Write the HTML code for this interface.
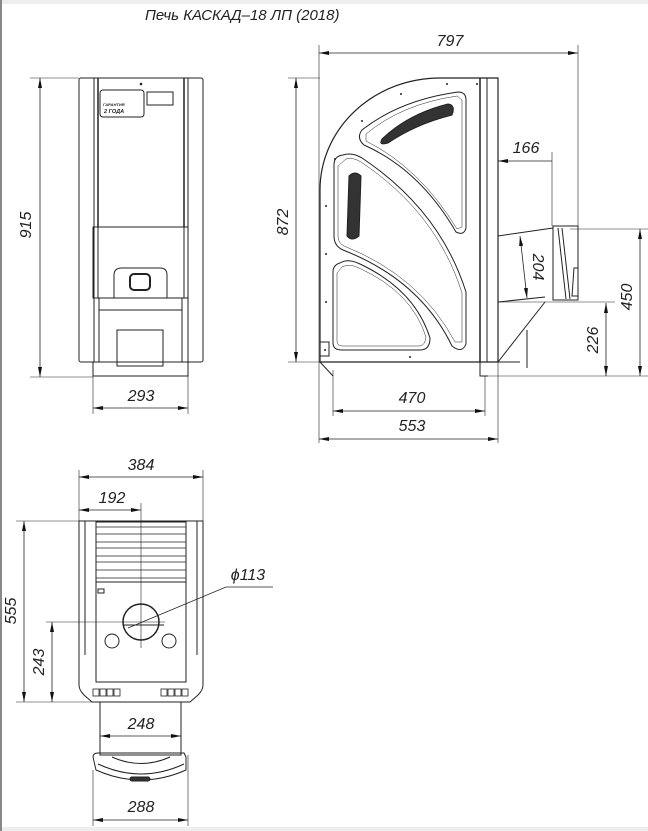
<!DOCTYPE html>
<html><head><meta charset="utf-8"><style>
html,body{margin:0;padding:0;background:#fff;}
svg{display:block;}
text{font-family:"Liberation Sans","DejaVu Sans",sans-serif;font-style:italic;fill:#222;}
</style></head><body>
<svg width="648" height="831" viewBox="0 0 648 831" xmlns="http://www.w3.org/2000/svg">
<defs>
<marker id="a" viewBox="0 0 10 4" refX="10" refY="2" markerWidth="10" markerHeight="4" orient="auto-start-reverse" markerUnits="userSpaceOnUse"><path d="M0,0 L10,2 L0,4 Z" fill="#111"/></marker>
</defs>
<rect x="0" y="0" width="648" height="4" fill="#eee"/>
<rect x="0" y="827" width="648" height="4" fill="#eee"/>
<rect x="0" y="0" width="2" height="831" fill="#888"/>
<text x="145" y="20" font-size="15">Печь КАСКАД–18 ЛП (2018)</text>

<g fill="none" stroke="#222" stroke-width="1">
<!-- FRONT VIEW -->
<rect x="79" y="78" width="124" height="284" rx="2"/>
<line x1="94" y1="78" x2="94" y2="362"/><line x1="98" y1="78" x2="98" y2="227" stroke-width="1.5"/>
<line x1="188" y1="78" x2="188" y2="362"/><line x1="184" y1="78" x2="184" y2="227" stroke-width="1.5"/>
<rect x="100" y="90" width="44" height="27" rx="3"/>
<rect x="147" y="92" width="26" height="13"/>
<circle cx="141" cy="84" r="0.8" fill="#222"/>
<rect x="93" y="227" width="95" height="71"/>
<line x1="98" y1="227" x2="98" y2="298"/><line x1="184" y1="227" x2="184" y2="298"/>
<path d="M114,298 L114,275 Q114,268 122,268 L160,268 Q167,268 167,275 L167,298"/>
<rect x="130" y="274" width="20" height="16" rx="4" stroke-width="2"/>
<rect x="99" y="298" width="83" height="64"/>
<line x1="99" y1="310" x2="182" y2="310"/>
<rect x="117" y="330" width="46" height="36"/>
<rect x="93" y="362" width="95" height="14"/>
<!-- front dims -->
<line x1="30" y1="78" x2="79" y2="78" stroke-width=".6"/>
<line x1="30" y1="377" x2="93" y2="377" stroke-width=".6"/>
<line x1="40" y1="78" x2="40" y2="377" marker-start="url(#a)" marker-end="url(#a)" stroke-width=".8"/>
<line x1="93" y1="376" x2="93" y2="414" stroke-width=".6"/>
<line x1="188" y1="376" x2="188" y2="414" stroke-width=".6"/>
<line x1="93" y1="408" x2="188" y2="408" marker-start="url(#a)" marker-end="url(#a)" stroke-width=".8"/>

<!-- SIDE VIEW -->
<path d="M320,362 L320,190 A120,112 0 0 1 440,78 L498,78 L498,362 Z" stroke-width="1.2"/>
<line x1="480" y1="78" x2="480" y2="362" stroke-width="1.5"/>
<line x1="487" y1="78" x2="487" y2="362"/>
<line x1="320" y1="362" x2="498" y2="362"/>
<path d="M362,130 Q400,100 458,92 Q466,92 466,100 L466,228 Q464,236 456,232 Q420,170 364,145 Q356,138 362,130 Z"/>
<path d="M366,134 Q402,104 457,96 L462,100 L462,227 L457,229 Q420,168 366,141 Z" stroke-width=".5"/>
<path d="M343,155 Q352,152 362,158 Q440,210 466,292 L466,344 Q462,354 452,346 Q420,280 343,250 Q334,246 334,236 L334,165 Q334,156 343,155 Z"/>
<path d="M346,159 Q353,157 361,162 Q437,213 462,293 L462,342 L455,342 Q420,276 344,246 Q338,243 338,236 L338,166 Z" stroke-width=".5"/>
<path d="M340,263 Q348,258 360,264 Q415,290 430,338 Q430,350 420,350 L342,350 Q333,350 333,343 L333,272 Q333,265 340,263 Z"/>
<path d="M342,267 Q349,263 359,268 Q412,292 426,337 Q425,346 419,346 L343,346 Q337,346 337,341 L337,273 Z" stroke-width=".5"/>
<path d="M382,139 Q408,114 448,104 Q456,105 452,115 Q416,124 388,143 Q378,146 382,139 Z" fill="#333"/>
<path d="M349,176 Q355,170 361,176 L359,236 Q352,242 347,236 Z" fill="#333"/>
<rect x="320" y="342" width="9" height="14"/>
<g fill="#222" stroke="none">
<circle cx="447" cy="84" r="1"/><circle cx="477" cy="84" r="1"/><circle cx="401" cy="94" r="1"/>
<circle cx="362" cy="121" r="1"/><circle cx="335" cy="159" r="1"/><circle cx="326" cy="206" r="1"/>
<circle cx="326" cy="254" r="1"/><circle cx="326" cy="302" r="1"/><circle cx="410" cy="357" r="1"/><circle cx="325" cy="350" r="1"/>
</g>
<!-- pipe -->
<path d="M498,236 L553,228 M498,302 L545,297"/>
<rect x="553" y="226" width="25" height="74"/>
<line x1="558" y1="228" x2="566" y2="299"/><line x1="562" y1="228" x2="570" y2="299"/>
<path d="M574,268 L578,268 L578,296 L572,296 Z"/>
<path d="M545,302 L498,362 M527,330 L527,368 M498,362 L520,362 M320,362 L333,376 M480,362 L480,376 L488,376"/>
<!-- side dims -->
<line x1="319" y1="45" x2="319" y2="443" stroke-width=".6"/>
<line x1="578" y1="45" x2="578" y2="226" stroke-width=".6"/>
<line x1="319" y1="53" x2="578" y2="53" marker-start="url(#a)" marker-end="url(#a)" stroke-width=".8"/>
<line x1="288" y1="78" x2="320" y2="78" stroke-width=".6"/>
<line x1="288" y1="362" x2="320" y2="362" stroke-width=".6"/>
<line x1="296" y1="78" x2="296" y2="362" marker-start="url(#a)" marker-end="url(#a)" stroke-width=".8"/>
<line x1="552" y1="152" x2="552" y2="226" stroke-width=".6"/>
<line x1="498" y1="161" x2="552" y2="161" marker-start="url(#a)" stroke-width=".8"/>
<line x1="520" y1="236" x2="527" y2="298" marker-start="url(#a)" marker-end="url(#a)" stroke-width=".8"/>
<line x1="570" y1="229" x2="648" y2="229" stroke-width=".6"/>
<line x1="498" y1="302" x2="615" y2="302" stroke-width=".6"/>
<line x1="480" y1="376" x2="648" y2="376" stroke-width=".6"/>
<line x1="640" y1="229" x2="640" y2="376" marker-start="url(#a)" marker-end="url(#a)" stroke-width=".8"/>
<line x1="606" y1="303" x2="606" y2="376" marker-start="url(#a)" marker-end="url(#a)" stroke-width=".8"/>
<line x1="333" y1="370" x2="333" y2="416" stroke-width=".6"/>
<line x1="498" y1="362" x2="498" y2="443" stroke-width=".6"/>
<line x1="485" y1="376" x2="485" y2="416" stroke-width=".6"/>
<line x1="333" y1="411" x2="485" y2="411" marker-start="url(#a)" marker-end="url(#a)" stroke-width=".8"/>
<line x1="319" y1="439" x2="498" y2="439" marker-start="url(#a)" marker-end="url(#a)" stroke-width=".8"/>

<!-- TOP VIEW -->
<path d="M79,521 L203,521 L203,685 Q203,690 198,695 L190,702 L92,702 L84,695 Q79,690 79,685 Z"/>
<line x1="85" y1="521" x2="85" y2="655"/><line x1="197" y1="521" x2="197" y2="655"/>
<rect x="96" y="522" width="90" height="60"/>
<g stroke-width=".7"><line x1="96" y1="527" x2="186" y2="527"/><line x1="96" y1="534" x2="186" y2="534"/><line x1="96" y1="542" x2="186" y2="542"/><line x1="96" y1="548" x2="186" y2="548"/><line x1="96" y1="556" x2="186" y2="556"/><line x1="96" y1="562" x2="186" y2="562"/><line x1="96" y1="570" x2="186" y2="570"/><line x1="96" y1="578" x2="186" y2="578"/></g>
<path d="M96,582 L96,682 L186,682 L186,582"/>
<rect x="98" y="589" width="6" height="4"/>
<circle cx="141" cy="622" r="18" stroke-width="1.5"/>
<line x1="124" y1="625" x2="164" y2="625"/>
<circle cx="112" cy="641" r="7"/><circle cx="169" cy="641" r="7"/>
<g stroke-width=".8"><rect x="93" y="689" width="6" height="7"/><rect x="100" y="689" width="6" height="7"/><rect x="107" y="689" width="6" height="7"/><rect x="114" y="689" width="6" height="7"/><rect x="161" y="689" width="6" height="7"/><rect x="168" y="689" width="6" height="7"/><rect x="175" y="689" width="6" height="7"/><rect x="182" y="689" width="6" height="7"/></g>
<rect x="100" y="702" width="81" height="53"/>
<path d="M93,757 Q93,753 98,753 L184,753 L186,757 L186,770 Q141,790 96,770 Z"/>
<path d="M112,757 Q141,770 170,757 M98,764 Q141,784 184,764"/>
<rect x="130" y="777" width="20" height="4" rx="2" fill="#333"/>
<!-- top dims -->
<line x1="79" y1="470" x2="79" y2="521" stroke-width=".6"/>
<line x1="203" y1="470" x2="203" y2="521" stroke-width=".6"/>
<line x1="79" y1="477" x2="203" y2="477" marker-start="url(#a)" marker-end="url(#a)" stroke-width=".8"/>
<line x1="79" y1="510" x2="141" y2="510" marker-start="url(#a)" marker-end="url(#a)" stroke-width=".8"/>
<line x1="141" y1="503" x2="141" y2="648" stroke-width=".6"/>
<line x1="16" y1="521" x2="79" y2="521" stroke-width=".6"/>
<line x1="16" y1="702" x2="92" y2="702" stroke-width=".6"/>
<line x1="24" y1="521" x2="24" y2="702" marker-start="url(#a)" marker-end="url(#a)" stroke-width=".8"/>
<line x1="46" y1="622" x2="165" y2="622" stroke-width=".6"/>
<line x1="52" y1="622" x2="52" y2="702" marker-start="url(#a)" marker-end="url(#a)" stroke-width=".8"/>
<path d="M128,628 L226,587 L273,587" stroke-width=".7"/>
<line x1="100" y1="736" x2="181" y2="736" marker-start="url(#a)" marker-end="url(#a)" stroke-width=".8"/>
<line x1="93" y1="770" x2="93" y2="826" stroke-width=".6"/>
<line x1="188" y1="755" x2="188" y2="826" stroke-width=".6"/>
<line x1="93" y1="820" x2="188" y2="820" marker-start="url(#a)" marker-end="url(#a)" stroke-width=".8"/>
</g>

<text x="103" y="106" font-size="4" font-style="normal" font-weight="bold">ГАРАНТИЯ</text>
<text x="104" y="113" font-size="5.5" font-style="normal" font-weight="bold">2 ГОДА</text>

<g font-size="16">
<text x="0" y="0" text-anchor="middle" transform="translate(31,225) rotate(-90)">915</text>
<text x="141" y="401" text-anchor="middle">293</text>
<text x="450" y="46" text-anchor="middle">797</text>
<text x="0" y="0" text-anchor="middle" transform="translate(288,222) rotate(-90)">872</text>
<text x="526" y="153" text-anchor="middle">166</text>
<text x="0" y="0" text-anchor="middle" transform="translate(533,267) rotate(90)">204</text>
<text x="0" y="0" text-anchor="middle" transform="translate(632,297) rotate(-90)">450</text>
<text x="0" y="0" text-anchor="middle" transform="translate(598,340) rotate(-90)">226</text>
<text x="412" y="403" text-anchor="middle">470</text>
<text x="412" y="431" text-anchor="middle">553</text>
<text x="141" y="470" text-anchor="middle">384</text>
<text x="112" y="503" text-anchor="middle">192</text>
<text x="0" y="0" text-anchor="middle" transform="translate(16,611) rotate(-90)">555</text>
<text x="0" y="0" text-anchor="middle" transform="translate(44,662) rotate(-90)">243</text>
<text x="248" y="580" text-anchor="middle">ϕ113</text>
<text x="141" y="729" text-anchor="middle">248</text>
<text x="141" y="812" text-anchor="middle">288</text>
</g>
</svg>
</body></html>
